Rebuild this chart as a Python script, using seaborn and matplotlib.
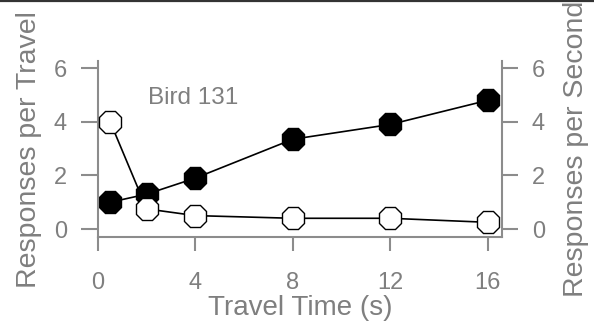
import matplotlib
matplotlib.use("Agg")
import matplotlib.pyplot as plt
from matplotlib.lines import Line2D
import seaborn as sns
import pandas as pd

# Travel time (s) and response rates for Bird 131
travel_time = [0.5, 2, 4, 8, 12, 16]
per_travel = [1.0, 1.3, 1.9, 3.35, 3.9, 4.8]
per_second = [4.0, 0.75, 0.5, 0.4, 0.4, 0.25]
x_ticks = [0, 4, 8, 12, 16]
y_ticks = [0, 2, 4, 6]
bird_label = "Bird 131"

sns.set_style("white")
plt.rcParams["font.family"] = ["Liberation Sans", "DejaVu Sans"]

TEXT = "#7f7f7f"
AXIS = "#8c8c8c"

df = pd.DataFrame({"time": travel_time, "travel": per_travel, "second": per_second})

fig = plt.figure(figsize=(5.94, 3.35), dpi=100)
ax = fig.add_axes([0.165, 0.2916, 0.68, 0.5264])
ax2 = ax.twinx()

sns.lineplot(data=df, x="time", y="travel", ax=ax, color="black", lw=1.2,
             marker="8", markersize=17, markerfacecolor="black",
             markeredgecolor="black", markeredgewidth=1.0, zorder=2)
sns.lineplot(data=df, x="time", y="second", ax=ax2, color="black", lw=1.2,
             marker="8", markersize=17, markerfacecolor="white",
             markeredgecolor="black", markeredgewidth=1.0, zorder=3)

for a in (ax, ax2):
    a.set_xlim(0, 16.59)
    a.set_ylim(-0.31, 6.27)
    a.set_yticks(y_ticks)
    a.spines["top"].set_visible(False)
    for s in ("left", "right", "bottom"):
        a.spines[s].set_color(AXIS)
        a.spines[s].set_linewidth(1.5)

ax2.spines["left"].set_visible(False)
ax2.spines["bottom"].set_visible(False)
ax.spines["right"].set_visible(False)

ax.set_xticks(x_ticks)
ax.tick_params(axis="x", length=10, width=1.5, color=AXIS, labelcolor=TEXT,
               labelsize=17, pad=15, direction="out", bottom=True)
ax.tick_params(axis="y", length=12, width=1.5, color=AXIS, labelcolor=TEXT,
               labelsize=17, pad=10.5, direction="out", left=True)
ax2.tick_params(axis="y", length=11.5, width=1.5, color=AXIS, labelcolor=TEXT,
                labelsize=17, pad=10, direction="out", right=True)

ax.set_xlabel("Travel Time (s)", fontsize=20, color=TEXT, labelpad=1)
ax.set_ylabel("Responses per Travel", fontsize=20.5, color=TEXT, labelpad=8)
ax2.set_ylabel("Responses per Second", fontsize=20.5, color=TEXT, labelpad=13)

ax.text(2.04, 4.9, bird_label, fontsize=17.5, color=TEXT, ha="left", va="center")

# dark rule along the top edge of the figure
fig.add_artist(Line2D([0, 1], [1 - 1 / 335, 1 - 1 / 335], color="#333333",
                      lw=1.6, transform=fig.transFigure))

fig.savefig("out.png", dpi=100)
